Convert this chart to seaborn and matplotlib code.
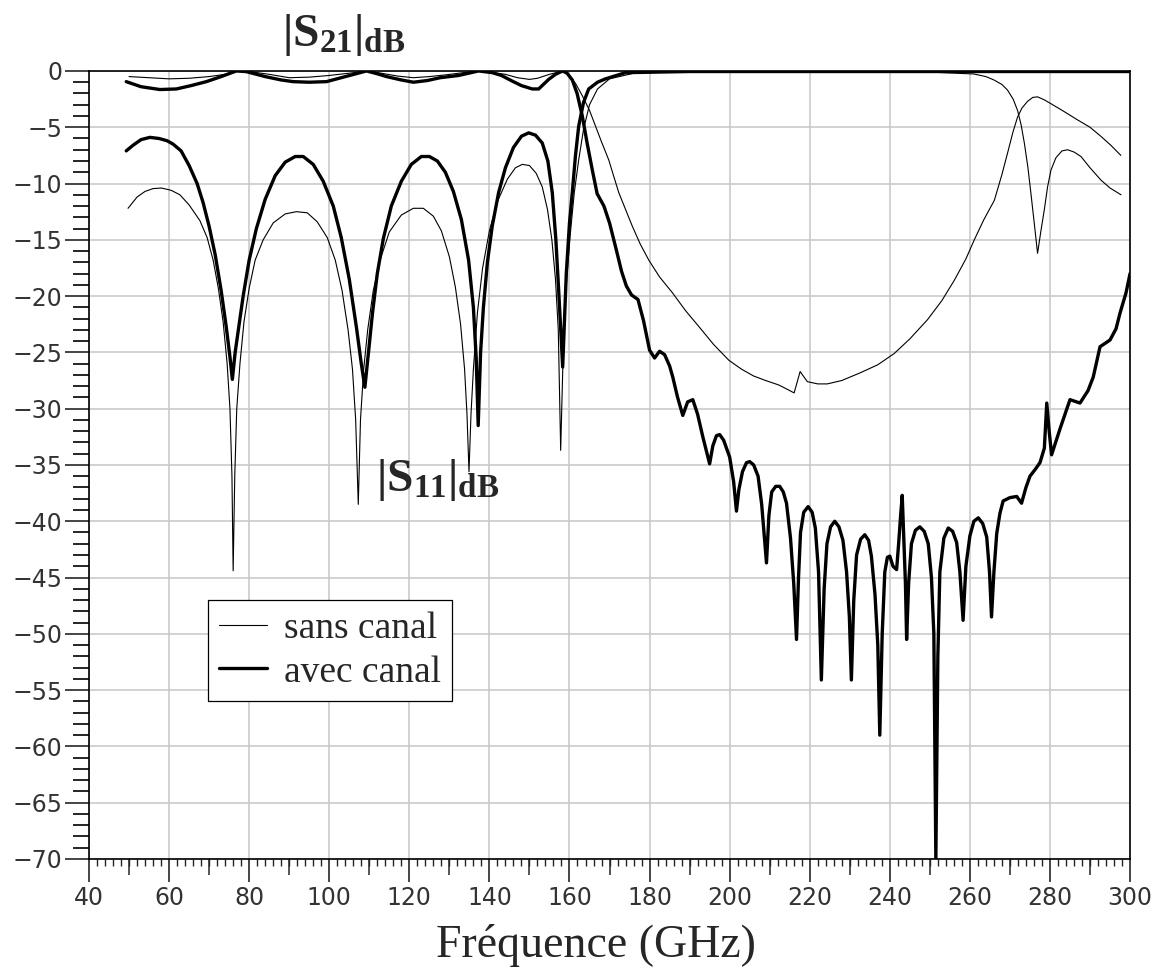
import matplotlib
matplotlib.use("Agg")
import matplotlib.pyplot as plt
import seaborn as sns
from matplotlib.ticker import MultipleLocator

# |S21| sans canal (thin)
s21_sans_f = [50, 55, 60, 65, 70, 74, 77.5, 80, 85, 90,
              95, 100, 105, 109.5, 113, 117, 121, 125, 129, 133.5,
              137, 140, 144, 147, 150, 152, 155, 158.3, 160, 161.5,
              163.2, 165, 166.5, 168, 169.8, 171, 172.3, 174, 175.7, 177.7,
              179.8, 182.5, 185.7, 189, 192.3, 196, 199.8, 203, 206, 209,
              212.3, 214.5, 216.1, 217.6, 219.4, 222, 224.4, 228, 232.7, 237,
              241.1, 245, 249.4, 253, 256.1, 259, 261.1, 263.5, 266.1, 268,
              269.4, 270.7, 271.9, 273, 274.4, 275.7, 276.9, 278.5, 280.2, 283.5,
              286.9, 290, 292.7, 295.2, 297.7]
s21_sans_db = [-0.5, -0.6, -0.7, -0.65, -0.5, -0.3, 0.0, -0.05, -0.3, -0.6,
               -0.55, -0.4, -0.2, 0.0, -0.2, -0.45, -0.6, -0.5, -0.35, -0.15,
               0.0, -0.1, -0.3, -0.6, -0.75, -0.65, -0.3, 0.0, -0.4, -1.1,
               -2.2, -3.5, -4.9, -6.3, -7.9, -9.3, -10.8, -12.3, -13.8, -15.4,
               -16.8, -18.3, -19.7, -21.3, -22.7, -24.3, -25.7, -26.5, -27.1, -27.5,
               -27.9, -28.3, -28.6, -26.7, -27.6, -27.8, -27.8, -27.5, -26.8, -26.1,
               -25.1, -23.8, -22.1, -20.4, -18.6, -16.7, -15.0, -13.2, -11.5, -9.2,
               -7.3, -5.5, -4.1, -3.3, -2.7, -2.35, -2.3, -2.55, -2.9, -3.6,
               -4.35, -5.0, -5.8, -6.6, -7.5]

# |S21| avec canal (thick)
s21_avec_f = [49.3, 53, 57.7, 61.8, 65.5, 69.3, 73, 76.8, 79.3, 84,
              88, 91, 95, 99.3, 104, 109.3, 112, 114.3, 118, 121,
              124.5, 127.7, 132.3, 137.3, 140.7, 143, 145.7, 148, 150.7, 152.3,
              154.8, 156.5, 158.3, 159.4, 160.7, 161.9, 163.2, 164.4, 165.7, 166.9,
              168.6, 170, 171.7, 173, 174.2, 175.5, 177.1, 178.5, 180.0, 181.25,
              182.5, 183.75, 185, 185.8, 187, 188.3, 189.5, 190.8, 192, 193.3,
              195.0, 195.8, 196.7, 197.5, 198.5, 200.0, 201, 201.7, 202.3, 203.2,
              204.2, 205.0, 206, 207.1, 208, 209.2, 209.8, 210.5, 211.5, 212.5,
              213.4, 214.2, 215.2, 216.0, 216.7, 217.2, 217.7, 218.5, 219.6, 220.6,
              221.4, 222.2, 222.9, 223.6, 224.3, 225.2, 226.25, 227.3, 228.3, 229.2,
              229.9, 230.4, 231, 231.7, 232.7, 233.75, 234.7, 235.4, 236.3, 237.0,
              237.5, 238.1, 238.75, 239.4, 240.0, 240.8, 241.7, 242.2, 242.7, 243.1,
              243.5, 243.9, 244.2, 244.7, 245.4, 246.4, 247.5, 248.6, 249.6, 250.4,
              251.0, 251.5, 252.0, 252.5, 253.5, 254.6, 255.7, 256.7, 257.5, 258.3,
              259.0, 260.0, 261.0, 262.1, 263.2, 264.2, 264.9, 265.4, 266.0, 266.7,
              267.5, 268.3, 270, 271.7, 272.9, 274.0, 275.0, 276.3, 277.5, 278.6,
              279.2, 279.8, 280.4, 282.5, 285.0, 287.5, 289.5, 290.8, 292.5, 295.0,
              296.5, 297.5, 299, 300.0]
s21_avec_db = [-0.95, -1.4, -1.65, -1.6, -1.3, -0.95, -0.5, 0.0, -0.06, -0.5,
               -0.8, -0.95, -1.0, -0.95, -0.5, 0.0, -0.25, -0.5, -0.8, -1.0,
               -0.85, -0.6, -0.4, 0.0, -0.15, -0.4, -0.9, -1.3, -1.6, -1.6,
               -0.75, -0.3, 0.0, -0.2, -0.8, -2.0, -4.0, -6.4, -8.8, -10.9,
               -12.0, -13.5, -15.9, -17.8, -19.1, -19.9, -20.3, -22.2, -24.8, -25.5,
               -24.9, -25.2, -26.2, -27.2, -29.0, -30.6, -29.4, -29.2, -30.5, -32.5,
               -34.9, -33.3, -32.4, -32.3, -32.8, -34.3, -36.5, -39.1, -37.2, -35.6,
               -34.8, -34.7, -35.0, -36.0, -38.5, -43.7, -39.5, -37.4, -36.9, -36.9,
               -37.4, -38.4, -41.5, -45.5, -50.5, -45.0, -41.0, -39.2, -38.7, -39.2,
               -40.6, -44.5, -54.1, -46.0, -42.0, -40.5, -40.0, -40.5, -41.7, -44.5,
               -48.5, -54.1, -47.0, -43.0, -41.6, -41.2, -41.7, -43.1, -46.5, -51.0,
               -59.0, -50.0, -44.5, -43.2, -43.1, -44.0, -44.3, -42.0, -39.5, -37.7,
               -41.5, -45.5, -50.5, -45.5, -42.0, -40.8, -40.5, -40.9, -42.0, -45.0,
               -50.0, -70.0, -52.0, -44.5, -41.5, -40.6, -40.9, -41.9, -44.5, -48.8,
               -44.0, -41.3, -40.0, -39.7, -40.2, -41.4, -44.5, -48.5, -44.5, -41.1,
               -39.3, -38.2, -37.9, -37.8, -38.4, -37.0, -36.0, -35.4, -34.8, -33.5,
               -29.5, -32.0, -34.1, -31.8, -29.2, -29.5, -28.4, -27.2, -24.5, -23.9,
               -22.9, -21.5, -19.7, -18.0]

# |S11| sans canal (thin)
s11_sans_f = [49.75, 52, 54, 56, 58.1, 60.5, 62.7, 65, 67.7, 69.5,
              71, 72.3, 73.5, 74.5, 75.2, 75.7, 76.0, 76.4, 76.9, 77.7,
              78.7, 80, 81.5, 83.5, 86, 89, 91.8, 94.5, 97, 99.5,
              101.5, 103.2, 104.7, 105.8, 106.6, 107.25, 107.8, 108.6, 109.6, 111,
              112.7, 115, 118, 121, 123.5, 126, 128, 130, 131.5, 132.8,
              133.8, 134.4, 134.9, 135.4, 136, 137, 138.3, 140, 142, 144.5,
              146.5, 148.2, 150, 151.7, 153.2, 154.5, 155.6, 156.5, 157.2, 157.8,
              158.5, 159.3, 160.2, 161.2, 162.3, 163.5, 165, 167, 170, 176.7,
              190, 210, 230, 250, 261, 264, 266, 268, 269.4, 270.8,
              271.9, 272.8, 273.6, 274.5, 275.25, 276.1, 276.9, 277.7, 278.6, 279.4,
              280.25, 281.5, 283, 284.4, 286, 287.75, 290, 292.75, 295, 297.75]
s11_sans_db = [-12.2, -11.2, -10.7, -10.45, -10.4, -10.6, -11.0, -11.9, -13.3, -14.8,
               -16.8, -19.3, -22.3, -26.0, -30.0, -36.0, -44.4, -36.0, -30.0, -26.0,
               -22.3, -19.3, -16.8, -15.0, -13.5, -12.7, -12.5, -12.6, -13.4, -14.8,
               -16.8, -19.5, -23.0, -26.5, -31.0, -38.5, -31.0, -26.5, -23.0, -19.5,
               -16.8, -14.3, -12.8, -12.2, -12.2, -12.9, -14.2, -16.5, -19.2, -22.5,
               -26.5, -30.5, -35.6, -30.5, -26.5, -21.5, -17.5, -14.2, -11.6, -9.6,
               -8.6, -8.3, -8.4, -9.1, -10.3, -12.3, -15.0, -18.5, -23.0, -33.7,
               -24.0, -18.5, -14.5, -10.8, -7.9, -5.2, -3.0, -1.6, -0.7, -0.15,
               -0.1, -0.1, -0.1, -0.1, -0.27, -0.5, -0.8, -1.2, -1.7, -2.5,
               -3.5, -4.8, -6.4, -8.6, -10.9, -13.6, -16.2, -14.3, -12.3, -10.3,
               -8.8, -7.7, -7.1, -7.0, -7.2, -7.6, -8.6, -9.7, -10.4, -11.0]

# |S11| avec canal (thick)
s11_avec_f = [49.3, 51, 53, 55.2, 57.5, 59.5, 61, 63, 65, 67,
              68.5, 70, 71.5, 73, 74.3, 75.2, 75.8, 76.5, 77.5, 78.5,
              80, 81.8, 84, 86.5, 89, 91.5, 93.5, 96, 98.5, 101,
              103, 105, 106.8, 108, 108.9, 109.8, 110.8, 112, 113.5, 115.5,
              118, 120.5, 123, 125, 127, 129, 131, 133, 134.8, 136,
              136.7, 137.2, 137.8, 138.5, 139.5, 140.7, 142.3, 144, 146, 148,
              149.8, 151.5, 153.2, 154.6, 155.7, 156.6, 157.3, 158.3, 159.2, 160,
              160.7, 161.5, 162.3, 163.5, 164.8, 167, 169, 174, 190, 220,
              250, 280, 300]
s11_avec_db = [-7.1, -6.6, -6.1, -5.9, -6.0, -6.2, -6.5, -7.1, -8.4, -10.0,
               -11.7, -13.8, -16.3, -19.5, -22.8, -25.4, -27.4, -25.0, -22.5, -20.0,
               -16.8, -14.0, -11.4, -9.3, -8.1, -7.6, -7.6, -8.3, -9.8, -12.0,
               -14.8, -18.5, -22.8, -26.0, -28.1, -25.0, -21.5, -18.0, -14.9, -12.0,
               -9.8, -8.3, -7.6, -7.6, -8.0, -9.0, -10.7, -13.2, -16.8, -21.0,
               -25.5, -31.5, -25.0, -21.0, -17.0, -13.8, -10.8, -8.6, -6.8, -5.8,
               -5.5, -5.7, -6.4, -8.0, -10.8, -15.0, -19.5, -26.3, -18.0, -13.5,
               -10.8, -7.5, -4.9, -2.8, -1.6, -1.0, -0.7, -0.15, -0.05, -0.05,
               -0.05, -0.05, -0.05]

legend_labels = ["sans canal", "avec canal"]

sns.set_style("white")
plt.rcParams["font.family"] = ["DejaVu Sans"]
plt.rcParams["mathtext.fontset"] = "custom"
plt.rcParams["mathtext.rm"] = "Liberation Serif"
plt.rcParams["mathtext.bf"] = "Liberation Serif:bold"

fig = plt.figure(figsize=(11.65, 9.72), dpi=100)
ax = fig.add_axes([0.0764, 0.1163, 0.8936, 0.8107])

thin, thick = 0.8, 2.4
sns.lineplot(x=s11_sans_f, y=s11_sans_db, ax=ax, color="black", lw=thin,
             label=legend_labels[0], estimator=None, sort=False)
sns.lineplot(x=s11_avec_f, y=s11_avec_db, ax=ax, color="black", lw=thick,
             label=legend_labels[1], estimator=None, sort=False)
sns.lineplot(x=s21_sans_f, y=s21_sans_db, ax=ax, color="black", lw=thin,
             estimator=None, sort=False)
sns.lineplot(x=s21_avec_f, y=s21_avec_db, ax=ax, color="black", lw=thick,
             estimator=None, sort=False)

ax.set_xlim(40, 300)
ax.set_ylim(-70, 0)
ax.set_axisbelow(True)
ax.grid(True, which="major", color="#c6c6c6", lw=1.1)

ax.xaxis.set_major_locator(MultipleLocator(20))
ax.xaxis.set_minor_locator(MultipleLocator(2))
ax.yaxis.set_major_locator(MultipleLocator(5))
ax.yaxis.set_minor_locator(MultipleLocator(1))
ax.tick_params(which="both", bottom=True, left=True, top=False, right=False)
ax.tick_params(axis="x", which="major", direction="out", length=16.5, width=1.2,
               labelsize=17, pad=3, labelcolor="#333333")
ax.tick_params(axis="x", which="minor", direction="out", length=5, width=1.0)
ax.tick_params(axis="y", which="major", direction="out", length=17, width=1.2,
               labelsize=17, pad=2, labelcolor="#333333")
ax.tick_params(axis="y", which="minor", direction="out", length=11.5, width=1.4)

# medium ticks at 50, 70, ... between the labelled ones
sec = ax.secondary_xaxis("bottom")
sec.set_ticks(list(range(50, 300, 20)))
sec.tick_params(axis="x", direction="out", length=11.5, width=1.1, labelbottom=False)
sec.spines["bottom"].set_visible(False)

for sp in ax.spines.values():
    sp.set_visible(True)
    sp.set_color("black")
    sp.set_linewidth(1.2)

ax.set_xlabel("Fréquence (GHz)", fontfamily="Liberation Serif", fontsize=33)
ax.xaxis.set_label_coords(0.487, -0.082)
ax.set_ylabel("")

ax.text(88.3, 3.2, r"$\mathbf{|S_{21}|_{dB}}$", fontsize=34, ha="left", va="center",
        clip_on=False)
ax.text(111.8, -36.3, r"$\mathbf{|S_{11}|_{dB}}$", fontsize=34, ha="left", va="center")

handles, labels = ax.get_legend_handles_labels()
leg = ax.legend(handles, labels, loc="upper left", bbox_to_anchor=(0.1143, 0.3287),
                borderaxespad=0, frameon=True, fancybox=False, framealpha=1,
                edgecolor="black", prop={"family": "Liberation Serif", "size": 27},
                handlelength=1.28, handletextpad=0.45, borderpad=0.3, labelspacing=0.25)
leg.get_frame().set_linewidth(0.9)

fig.savefig("out.png", dpi=100)
